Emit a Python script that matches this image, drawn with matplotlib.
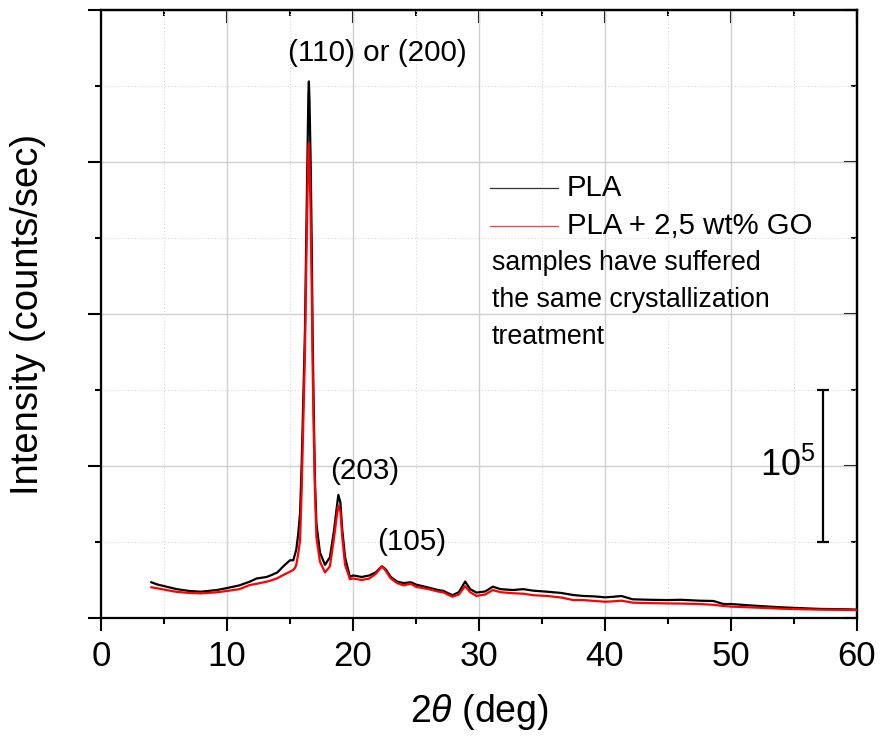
import matplotlib
matplotlib.use("Agg")
import matplotlib.pyplot as plt
from matplotlib.ticker import MultipleLocator, NullFormatter
import numpy as np

plt.rcParams['font.family'] = ['Liberation Sans', 'DejaVu Sans']
plt.rcParams['mathtext.fontset'] = 'custom'
plt.rcParams['mathtext.rm'] = 'Liberation Sans'
plt.rcParams['mathtext.it'] = 'Liberation Sans:italic'

# 2-theta positions (deg) and intensities (units of 1e5 counts/sec)
two_theta = [4.0, 4.5, 5.2, 6.0, 7.0, 7.9, 9.2, 10.0, 10.5, 11.0, 11.8, 12.35,
             13.15, 13.6, 14.0, 14.47, 15.0, 15.26, 15.4, 15.5, 15.65, 15.8,
             15.93, 16.06, 16.19, 16.29, 16.38, 16.46, 16.5, 16.55, 16.64,
             16.72, 16.8, 16.88, 16.98, 17.1, 17.38, 17.78, 18.17, 18.5,
             18.7, 18.84, 19.0, 19.15, 19.37, 19.76, 20.0, 20.7, 21.3, 21.8,
             22.3, 22.6, 23.0, 23.5, 24.0, 24.6, 25.0, 26.0, 26.7, 27.2,
             27.5, 27.9, 28.4, 28.9, 29.3, 29.8, 30.5, 31.1, 31.7, 32.7,
             33.5, 34.3, 35.4, 36.5, 37.5, 38.3, 39.2, 40.0, 40.7, 41.3,
             42.2, 43.5, 44.9, 46.0, 47.5, 48.6, 49.4, 50.0, 51.5, 53.0,
             54.1, 55.5, 57.0, 58.5, 59.4, 60.0]

pla = [0.235, 0.22, 0.206, 0.19, 0.178, 0.173, 0.184, 0.197, 0.206, 0.215,
       0.239, 0.26, 0.27, 0.285, 0.30, 0.34, 0.38, 0.38, 0.42, 0.45, 0.55,
       0.69, 1.02, 1.45, 1.9, 2.5, 3.0, 3.45, 3.53, 3.4, 3.0, 2.5, 1.85,
       1.4, 0.91, 0.62, 0.43, 0.35, 0.40, 0.58, 0.72, 0.81, 0.76, 0.58,
       0.40, 0.27, 0.28, 0.27, 0.28, 0.30, 0.34, 0.32, 0.27, 0.24, 0.23,
       0.235, 0.22, 0.20, 0.185, 0.178, 0.165, 0.15, 0.17, 0.24, 0.19,
       0.167, 0.175, 0.206, 0.19, 0.184, 0.19, 0.18, 0.173, 0.165, 0.151,
       0.145, 0.142, 0.136, 0.14, 0.145, 0.123, 0.12, 0.118, 0.12, 0.114,
       0.112, 0.092, 0.092, 0.083, 0.075, 0.07, 0.065, 0.06, 0.058, 0.057,
       0.055]

pla_go = [0.202, 0.195, 0.184, 0.172, 0.165, 0.162, 0.169, 0.178, 0.184,
          0.19, 0.217, 0.225, 0.239, 0.25, 0.262, 0.283, 0.305, 0.316, 0.33,
          0.35, 0.42, 0.51, 0.85, 1.3, 1.75, 2.3, 2.75, 3.08, 3.125, 3.0,
          2.65, 2.2, 1.65, 1.25, 0.84, 0.53, 0.37, 0.30, 0.34, 0.53, 0.66,
          0.74, 0.70, 0.53, 0.35, 0.255, 0.26, 0.25, 0.26, 0.29, 0.34, 0.31,
          0.26, 0.23, 0.215, 0.225, 0.205, 0.19, 0.175, 0.168, 0.155, 0.14,
          0.155, 0.21, 0.17, 0.145, 0.155, 0.184, 0.17, 0.163, 0.16, 0.15,
          0.145, 0.135, 0.118, 0.118, 0.112, 0.107, 0.11, 0.114, 0.101,
          0.098, 0.096, 0.095, 0.092, 0.087, 0.079, 0.075, 0.07, 0.065,
          0.061, 0.058, 0.055, 0.054, 0.053, 0.052]

UNIT = 1e5
series_labels = ['PLA', 'PLA + 2,5 wt% GO']
series_colors = ['#000000', '#ff0000']

peak_labels = ['(110) or (200)', '(203)', '(105)']
peak_label_x = [21.94, 20.95, 24.66]
peak_label_y = [3.72, 0.97, 0.50]

note_lines = ['samples have suffered', 'the same crystallization', 'treatment']

scale_x = 57.3
scale_y = 1.0
scale_half = 0.5

fig = plt.figure(figsize=(8.81, 7.42), dpi=100)
ax = fig.add_axes([0.1146, 0.1671, 0.9728 - 0.1146, 0.9865 - 0.1671])

x = np.array(two_theta)
ax.plot(x, np.array(pla) * UNIT, color=series_colors[0], lw=1.6, zorder=3)
ax.plot(x, np.array(pla_go) * UNIT, color=series_colors[1], lw=1.6, zorder=4)

ax.set_xlim(0, 60)
ax.set_ylim(0, 4 * UNIT)
ax.xaxis.set_major_locator(MultipleLocator(10))
ax.xaxis.set_minor_locator(MultipleLocator(5))
ax.yaxis.set_major_locator(MultipleLocator(UNIT))
ax.yaxis.set_minor_locator(MultipleLocator(UNIT / 2))
ax.yaxis.set_major_formatter(NullFormatter())

ax.grid(which='major', color='#cfcfcf', lw=1.0, ls='-', zorder=0)
ax.grid(which='minor', color='#d6d6d6', lw=0.8, ls=(0, (1, 2)), zorder=0)
ax.set_axisbelow(True)

for s in ax.spines.values():
    s.set_linewidth(1.6)

ax.tick_params(axis='both', which='major', direction='out', length=9.5,
               width=1.5, labelsize=25, pad=6)
ax.tick_params(axis='both', which='minor', direction='out', length=4.5,
               width=1.5)

# inward ticks on the top and right edges
top = ax.secondary_xaxis('top')
top.xaxis.set_major_locator(MultipleLocator(10))
top.xaxis.set_minor_locator(MultipleLocator(5))
top.xaxis.set_major_formatter(NullFormatter())
top.tick_params(which='major', direction='in', length=9.5, width=1.5)
top.tick_params(which='minor', direction='in', length=4.5, width=1.5)
top.spines['top'].set_linewidth(1.6)

right = ax.secondary_yaxis('right')
right.yaxis.set_major_locator(MultipleLocator(UNIT))
right.yaxis.set_minor_locator(MultipleLocator(UNIT / 2))
right.yaxis.set_major_formatter(NullFormatter())
right.tick_params(which='major', direction='in', length=9.5, width=1.5)
right.tick_params(which='minor', direction='in', length=4.5, width=1.5)
right.spines['right'].set_linewidth(1.6)

ax.set_xlabel(r'2$\theta$ (deg)', fontsize=27, labelpad=14)
ax.set_ylabel('Intensity (counts/sec)', fontsize=27.5, labelpad=24)

for lab, lx, ly in zip(peak_labels, peak_label_x, peak_label_y):
    ax.text(lx, ly * UNIT, lab, fontsize=21.3, ha='center', va='center')

# legend
ax.plot([0.515, 0.604], [0.707, 0.707], transform=ax.transAxes,
        color='#333333', lw=0.9)
ax.plot([0.515, 0.604], [0.645, 0.645], transform=ax.transAxes,
        color='#ff4040', lw=0.9)
ax.text(0.616, 0.707, series_labels[0], transform=ax.transAxes,
        fontsize=21.2, va='center', ha='left')
ax.text(0.616, 0.645, series_labels[1], transform=ax.transAxes,
        fontsize=21.2, va='center', ha='left')
for i, line in enumerate(note_lines):
    ax.text(0.517, 0.584 - i * 0.0608, line, transform=ax.transAxes,
            fontsize=19.3, va='center', ha='left')

# intensity scale bar
ax.errorbar([scale_x], [scale_y * UNIT], yerr=[scale_half * UNIT], fmt='none',
            ecolor='black', elinewidth=1.6, capsize=4, capthick=1.6, zorder=5)
ax.text(56.7, scale_y * UNIT, r'$\mathregular{10^5}$', fontsize=26,
        ha='right', va='center')

fig.savefig('out.png', dpi=100)
